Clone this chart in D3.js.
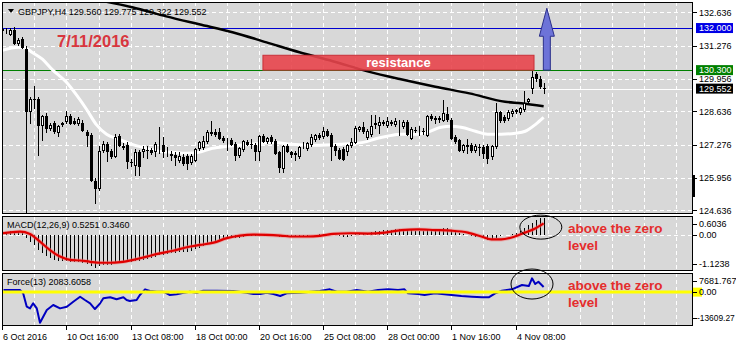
<!DOCTYPE html>
<html><head><meta charset="utf-8">
<script src="https://cdn.jsdelivr.net/npm/d3@7/dist/d3.min.js"></script>
<style>
body{margin:0;background:#fff;}
svg{display:block;font-family:"Liberation Sans",Arial,sans-serif;}
</style>
</head><body>
<svg id="c" width="736" height="347"></svg>
<script>
// ---------------- DATA ----------------
const symbol = "GBPJPY", timeframe = "H4";
// H4 candles, index 0 = 6 Oct 2016 00:00 ; [open, high, low, close]
const candles = [
[131.95,132.07,131.79,131.87],[131.87,131.99,131.75,131.91],[131.71,131.99,131.67,131.91],[131.91,132.03,131.30,131.34],
[131.34,131.59,131.26,131.50],[131.55,131.63,131.14,131.18],[131.14,131.26,122.40,128.60],[128.60,129.20,128.11,129.12],
[129.12,129.65,128.72,129.08],[129.12,129.20,126.82,128.03],[128.03,128.47,127.42,128.43],[128.43,128.56,127.75,127.91],
[127.91,128.15,127.83,128.07],[128.15,128.23,127.71,127.79],[127.75,128.07,127.59,128.03],[128.07,128.19,127.99,128.15],
[128.19,128.64,128.11,128.43],[128.43,128.52,128.07,128.11],[128.23,128.35,128.07,128.11],[128.11,128.39,128.03,128.31],
[128.15,128.27,127.79,127.83],[127.79,127.87,127.18,127.63],[127.67,127.75,125.77,125.81],[125.81,125.93,124.88,125.48],
[125.48,127.22,125.40,127.02],[127.02,127.42,126.94,127.30],[127.30,127.38,126.58,126.98],[127.02,127.10,126.70,126.78],
[126.78,127.71,126.74,127.59],[127.63,127.71,127.18,127.22],[127.22,127.34,127.06,127.14],[127.26,127.38,126.29,126.58],
[126.58,126.70,126.37,126.53],[126.41,127.10,126.01,126.98],[126.98,127.06,126.01,126.37],[126.98,127.22,126.74,127.10],
[127.06,127.22,126.70,127.02],[127.06,127.14,126.86,126.94],[126.98,127.38,126.78,127.30],[127.34,127.99,126.90,127.38],
[127.26,127.59,126.74,126.98],[127.02,127.18,126.78,127.06],[126.90,127.02,126.62,126.82],[126.86,126.98,126.41,126.74],
[126.62,126.98,126.53,126.82],[126.78,126.90,126.41,126.49],[126.82,126.90,126.25,126.49],[126.53,126.90,126.45,126.82],
[126.62,127.14,126.58,127.10],[127.10,127.42,127.02,127.38],[127.14,127.63,127.06,127.42],[127.38,127.87,127.30,127.79],
[127.79,128.23,127.63,127.71],[127.79,127.91,127.59,127.67],[127.79,127.95,127.46,127.51],[127.55,127.63,127.34,127.42],
[127.46,127.55,127.02,127.51],[127.46,127.55,127.22,127.26],[127.30,127.38,126.62,126.82],[126.82,127.18,126.74,127.14],
[127.06,127.46,126.98,127.42],[127.38,127.46,127.22,127.26],[127.30,127.51,127.10,127.26],[127.26,127.34,126.62,126.98],
[126.98,127.67,126.62,127.63],[127.63,127.71,127.34,127.38],[127.38,127.59,127.30,127.55],[127.59,127.67,127.30,127.38],
[127.42,127.51,126.86,126.90],[126.98,127.02,126.13,126.33],[126.29,127.26,126.13,127.22],[127.22,127.30,126.94,126.98],
[126.98,127.02,126.74,126.86],[126.86,127.02,126.62,126.94],[126.78,127.22,126.70,127.18],[127.18,127.38,127.10,127.20],
[127.10,127.38,127.02,127.34],[127.26,127.71,127.18,127.59],[127.46,127.71,127.38,127.67],[127.67,127.75,127.46,127.55],
[127.59,127.99,127.51,127.83],[127.83,127.91,127.59,127.63],[127.67,127.75,126.62,127.18],[127.22,127.30,126.82,127.02],
[127.06,127.14,126.66,126.70],[127.10,127.18,126.62,126.66],[126.98,127.30,126.82,127.26],[127.22,127.55,127.14,127.38],
[127.34,128.03,127.30,127.95],[127.87,128.03,127.79,127.99],[127.99,128.19,127.71,127.79],[127.55,127.91,127.46,127.83],
[127.67,128.47,127.59,128.03],[128.07,128.47,127.91,128.15],[128.03,128.39,127.71,128.19],[128.19,128.27,128.03,128.11],
[128.03,128.39,127.95,128.23],[128.19,128.27,128.03,128.11],[128.07,128.35,127.99,128.23],[128.11,128.27,127.63,128.15],
[127.99,128.27,127.91,128.19],[128.19,128.27,127.63,127.67],[127.51,127.99,127.46,127.91],[127.87,127.99,127.75,127.83],
[127.83,128.03,127.63,127.87],[127.83,127.95,127.67,127.79],[127.63,128.47,127.59,128.43],[128.43,128.52,128.23,128.31],
[128.27,128.43,128.11,128.35],[128.35,128.43,128.15,128.27],[128.23,129.08,128.19,128.56],[128.52,128.80,128.19,128.27],
[128.27,128.35,127.46,127.51],[127.59,127.67,127.30,127.38],[127.46,127.51,126.98,127.02],[127.02,127.30,126.94,127.26],
[127.18,127.51,126.90,127.26],[127.26,127.34,126.94,127.02],[127.02,127.30,126.94,127.22],[127.18,127.30,126.82,127.14],
[127.18,127.26,126.70,126.90],[127.22,127.30,126.49,126.70],[126.78,127.26,126.66,127.22],[127.18,128.96,127.10,128.60],
[128.60,128.64,128.15,128.23],[128.39,128.47,128.15,128.23],[128.31,128.68,128.23,128.60],[128.52,128.72,128.39,128.64],
[128.60,128.72,128.52,128.68],[128.56,128.80,128.47,128.76],[128.68,129.44,128.60,128.99],[129.00,129.16,128.96,129.12],
[129.52,130.25,129.32,130.01],[130.13,130.21,129.81,129.93],[129.93,130.05,129.52,129.61],[129.560,129.775,129.322,129.552]
];
// moving averages: [bar index, price]
const maFast = [[0,131.10],[4,131.22],[6,131.18],[7.4,131.02],[10,130.74],[12.4,130.33],[16,129.81],[18.4,129.32],
[21,128.72],[23.4,128.11],[26,127.71],[29,127.51],[32.4,127.30],[36,127.14],[39,127.02],[42.4,126.98],[46,126.94],
[49,126.98],[52.4,127.14],[56,127.22],[62,127.30],[68,127.38],[72,127.30],[78,127.26],[84,127.30],[90,127.38],
[93.6,127.55],[96,127.63],[99.4,127.71],[103,127.71],[106,127.79],[109.4,127.99],[112,128.03],[114.4,127.99],
[118,127.83],[121,127.71],[124.4,127.71],[128,127.75],[130.4,127.83],[133,128.11],[135,128.39]];
const maSlow = [[25.4,133.08],[32.4,132.84],[40.9,132.47],[49.1,132.15],[57.4,131.83],[65.9,131.42],[74.1,131.02],
[82.4,130.66],[91.1,130.25],[99.4,129.93],[108,129.63],[116.5,129.36],[125.4,129.02],[129.4,128.96],[135,128.84]];
// price axis
const priceTicks = [132.636,131.276,129.956,128.636,127.276,125.956,124.636];
const priceRange = [124.636,132.636];
const blueLevel = 132.000, greenLevel = 130.300;
// resistance zone and target arrow
const resistanceBars = [65,132.6], resistancePrices = [130.30,130.90];
const arrowBar = 135.8, arrowPrices = [130.30,132.80];
// MACD(12,26,9) main line per bar and signal line samples
const macdMain = [0.08,0.09,0.10,0.10,0.09,0.07,-0.10,-0.22,-0.33,-0.48,
-0.58,-0.66,-0.72,-0.77,-0.80,-0.82,-0.83,-0.84,-0.85,-0.86,
-0.88,-0.90,-0.97,-1.02,-0.98,-0.95,-0.94,-0.93,-0.88,-0.86,
-0.85,-0.86,-0.86,-0.83,-0.82,-0.78,-0.75,-0.72,-0.68,-0.64,
-0.62,-0.60,-0.58,-0.57,-0.55,-0.54,-0.53,-0.50,-0.45,-0.40,
-0.35,-0.29,-0.24,-0.20,-0.17,-0.15,-0.13,-0.12,-0.12,-0.10,
-0.07,-0.05,-0.04,-0.04,-0.01,0.00,0.01,0.01,-0.02,-0.06,
-0.05,-0.06,-0.07,-0.07,-0.06,-0.05,-0.04,-0.02,0.00,0.01,
0.03,0.03,0.00,-0.02,-0.05,-0.07,-0.06,-0.04,0.01,0.04,
0.05,0.05,0.08,0.10,0.12,0.13,0.14,0.15,0.16,0.16,
0.17,0.14,0.13,0.12,0.12,0.11,0.15,0.17,0.18,0.18,
0.20,0.19,0.14,0.10,0.06,0.03,0.00,-0.03,-0.06,-0.09,
-0.12,-0.16,-0.17,-0.10,-0.05,-0.02,-0.01,0.02,0.05,0.12,
0.20,0.28,0.36,0.44,0.50,0.5251];
const macdSignal = [[0,0.04],[4.4,0.09],[6.9,0.02],[9.4,-0.22],[11.9,-0.48],[14.4,-0.68],[16.9,-0.78],[19.4,-0.80],
[21.9,-0.84],[24.4,-0.87],[26.9,-0.87],[29.4,-0.85],[32.7,-0.78],[36,-0.68],[39.3,-0.58],[42.6,-0.50],[46,-0.39],
[49.3,-0.32],[52.7,-0.25],[56,-0.11],[59.3,-0.03],[62.6,0.00],[65.9,-0.01],[69.3,-0.03],[72.6,-0.06],[75.9,-0.06],
[79.2,-0.04],[82.6,0.02],[86.7,0.04],[91.2,0.03],[95.4,0.06],[99.5,0.14],[103.7,0.16],[107.8,0.14],[112,0.12],
[116.1,0.06],[119.5,-0.06],[122,-0.15],[124.4,-0.15],[127.8,-0.06],[130.3,0.06],[132.9,0.19],[135,0.3460]];
const macdRange = [-1.1238,0.6036];
// Force(13)
const forceLine = [[0.3,840],[4.4,840],[5.2,-480],[6.1,-5860],[6.9,-6530],[7.7,-4500],[8.6,-6530],[9.4,-12290],
[10.2,-9880],[11.1,-7190],[12.7,-5180],[14.4,-6530],[16.1,-5860],[17.7,-3850],[19.4,-1840],[20.6,-3170],[21.9,-4500],
[23.1,-6790],[24.4,-4500],[25.2,-2490],[26.9,-2090],[28.5,-2890],[30.2,-2090],[31,-3170],[31.8,-3570],[33.5,-3170],
[34.3,-1160],[35.6,1120],[36.8,440],[38.5,160],[40.2,160],[41.8,-1160],[43.5,-880],[45.2,-240],[46.8,160],[48.5,-240],
[50.1,560],[53.5,560],[57.6,440],[60.9,-240],[62.6,-760],[64.3,-760],[65.9,-240],[67.6,-760],[69.3,-1570],[70.9,-480],
[74.2,-240],[79.2,440],[81.7,1120],[83.4,160],[85.9,160],[88.4,840],[91.2,160],[93.7,840],[96.2,1120],[98.7,840],
[100.3,1120],[101.2,-480],[103.7,-760],[105.3,-1160],[107.9,-480],[112,-1160],[114.5,-1570],[117.1,-1840],
[119.6,-2090],[121.3,-2090],[122.9,-480],[124.6,560],[127.1,1120],[129.6,2850],[131.3,2450],[132.1,5540],
[132.9,3250],[133.7,4180],[135,2083.6058]];
const forceRange = [-13609.27,7681.767];
// time axis
const timeTickBars = [0,16,32,48,64,80,96,112,128];
const timeLabels = ["6 Oct 2016","10 Oct 16:00","13 Oct 08:00","18 Oct 00:00","20 Oct 16:00","25 Oct 08:00","28 Oct 00:00","1 Nov 16:00","4 Nov 08:00"];
// annotations
const dateNote = "7/11/2016", resistanceNote = "resistance";
const zeroNote = ["above the zero","level"];
const macdCircle = [134.3,0.23], forceCircle = [132.1,3250];

// ---------------- LAYOUT ----------------
const svg = d3.select("#c");
const L = 2, R = 693;
const P = {main:[2,214], macd:[216,271], force:[273,326]};
const GRAY = "#d8d8d8";
const xS = d3.scaleLinear().domain([0,172]).range([2.3,692]);
const yMain = d3.scaleLinear().domain(priceRange).range([210.3,12.3]);
const yMacd = d3.scaleLinear().domain(macdRange).range([271,215]);
const yForce = d3.scaleLinear().domain(forceRange).range([326,273]);

svg.append("rect").attr("width",736).attr("height",347).attr("fill","#fff");
const defs = svg.append("defs");
Object.entries(P).forEach(([k,[t,b]])=>{
  defs.append("clipPath").attr("id","clip-"+k).append("rect").attr("x",L).attr("y",t).attr("width",R-L).attr("height",b-t);
  svg.append("rect").attr("x",L).attr("y",t).attr("width",R-L).attr("height",b-t).attr("fill",GRAY);
});
const gMain = svg.append("g").attr("clip-path","url(#clip-main)");
const gMacd = svg.append("g").attr("clip-path","url(#clip-macd)");
const gForce = svg.append("g").attr("clip-path","url(#clip-force)");

// vertical grid
const gridBars = d3.range(8,172,8);
[["main",gMain],["macd",gMacd],["force",gForce]].forEach(([k,g])=>{
  g.append("g").attr("shape-rendering","crispEdges").selectAll("line").data(gridBars).join("line")
   .attr("x1",d=>Math.round(xS(d))+0.5).attr("x2",d=>Math.round(xS(d))+0.5)
   .attr("y1",P[k][0]).attr("y2",P[k][1]).attr("stroke","#fff").attr("stroke-dasharray","4,3");
});
// horizontal grid main
gMain.append("g").attr("shape-rendering","crispEdges").selectAll("line").data(priceTicks).join("line")
  .attr("x1",L).attr("x2",R).attr("y1",d=>Math.round(yMain(d))+0.5).attr("y2",d=>Math.round(yMain(d))+0.5)
  .attr("stroke","#fff").attr("stroke-dasharray","4,3");
gMacd.append("line").attr("x1",L).attr("x2",R).attr("y1",Math.round(yMacd(0))+0.5).attr("y2",Math.round(yMacd(0))+0.5)
  .attr("stroke","#fff").attr("stroke-dasharray","4,3").attr("shape-rendering","crispEdges");

// level lines
const lastClose = candles[candles.length-1][3];
[[blueLevel,"#0000d0"],[greenLevel,"#008000"],[lastClose,"#ffffff"]].forEach(([v,c])=>{
  gMain.append("line").attr("x1",L).attr("x2",R).attr("y1",Math.round(yMain(v))+0.5).attr("y2",Math.round(yMain(v))+0.5)
   .attr("stroke",c).attr("shape-rendering","crispEdges");
});

// moving averages
const lineMain = d3.line().x(d=>xS(d[0])).y(d=>yMain(d[1])).curve(d3.curveMonotoneX);
gMain.append("path").attr("d",lineMain(maFast)).attr("fill","none").attr("stroke","#ffffff").attr("stroke-width",3);
gMain.append("path").attr("d",lineMain(maSlow)).attr("fill","none").attr("stroke","#000").attr("stroke-width",2.5);

// candles
const gC = gMain.append("g").attr("shape-rendering","crispEdges");
const cd = candles.map((d,i)=>({i,o:d[0],h:d[1],l:d[2],c:d[3]}));
gC.selectAll("line").data(cd).join("line")
  .attr("x1",d=>Math.round(xS(d.i))+0.5).attr("x2",d=>Math.round(xS(d.i))+0.5)
  .attr("y1",d=>yMain(d.h)).attr("y2",d=>yMain(d.l)).attr("stroke","#000");
gC.selectAll("rect.bear").data(cd.filter(d=>d.c<d.o)).join("rect").attr("class","bear")
  .attr("x",d=>Math.round(xS(d.i))-1).attr("width",3)
  .attr("y",d=>Math.round(yMain(d.o))).attr("height",d=>Math.max(1,Math.round(yMain(d.c))-Math.round(yMain(d.o))))
  .attr("fill","#000");
gC.selectAll("rect.bull").data(cd.filter(d=>d.c>=d.o)).join("rect").attr("class","bull")
  .attr("x",d=>Math.round(xS(d.i))-0.5).attr("width",2)
  .attr("y",d=>Math.round(yMain(d.c))+0.5).attr("height",d=>Math.max(0,Math.round(yMain(d.o))-Math.round(yMain(d.c))-1))
  .attr("fill","#fff").attr("stroke","#000");

// resistance box
const rx0 = xS(resistanceBars[0]), rx1 = xS(resistanceBars[1]);
const ry0 = yMain(resistancePrices[1]), ry1 = yMain(resistancePrices[0]);
gMain.append("rect").attr("x",rx0).attr("y",ry0).attr("width",rx1-rx0).attr("height",ry1-ry0)
  .attr("fill","#e8454c").attr("fill-opacity",0.9).attr("stroke","#c83038").attr("stroke-width",1);
gMain.append("text").attr("x",(rx0+rx1)/2).attr("y",(ry0+ry1)/2+4.5).attr("text-anchor","middle")
  .attr("font-size",13).attr("font-weight","bold").attr("fill","#fff").text(resistanceNote);

// arrow
const ax = xS(arrowBar), aBase = yMain(arrowPrices[0]), aTip = yMain(arrowPrices[1]);
const headY = aTip + 28;
gMain.append("path").attr("d",`M${ax},${aTip} L${ax+7.5},${headY} L${ax+3.5},${headY} L${ax+3.5},${aBase} L${ax-3.5},${aBase} L${ax-3.5},${headY} L${ax-7.5},${headY} Z`)
  .attr("fill","#6d73d8").attr("stroke","#2b2f8a").attr("stroke-width",1);

// date note
gMain.append("text").attr("x",57).attr("y",47).attr("font-size",16.5).attr("font-weight","bold").attr("fill","#d8363e").text(dateNote);

// header
svg.append("path").attr("d","M8,9 L14,9 L11,13 Z").attr("fill","#000");
const lc = candles[candles.length-1];
svg.append("text").attr("x",18).attr("y",14.5).attr("font-size",9).attr("fill","#000")
  .text(`${symbol},${timeframe}  ${lc[0].toFixed(3)} ${lc[1].toFixed(3)} ${lc[2].toFixed(3)} ${lc[3].toFixed(3)}`);

// MACD histogram + signal
gMacd.append("g").attr("shape-rendering","crispEdges").selectAll("line").data(macdMain).join("line")
  .attr("x1",(d,i)=>Math.round(xS(i))+0.5).attr("x2",(d,i)=>Math.round(xS(i))+0.5)
  .attr("y1",yMacd(0)).attr("y2",d=>yMacd(d)).attr("stroke","#000");
const lineMacd = d3.line().x(d=>xS(d[0])).y(d=>yMacd(d[1])).curve(d3.curveMonotoneX);
gMacd.append("path").attr("d",lineMacd(macdSignal)).attr("fill","none").attr("stroke","#f08080").attr("stroke-width",4).attr("stroke-opacity",0.5);
gMacd.append("path").attr("d",lineMacd(macdSignal)).attr("fill","none").attr("stroke","#e00000").attr("stroke-width",2.2);
svg.append("text").attr("x",7).attr("y",227.5).attr("font-size",9).attr("fill","#000")
  .text(`MACD(12,26,9) ${macdMain[macdMain.length-1].toFixed(4)} ${macdSignal[macdSignal.length-1][1].toFixed(4)}`);

// Force
const lineForce = d3.line().x(d=>xS(d[0])).y(d=>yForce(d[1]));
gForce.append("path").attr("d",lineForce(forceLine)).attr("fill","none").attr("stroke","#0000c0").attr("stroke-width",2).attr("stroke-linejoin","round");
gForce.append("line").attr("x1",L).attr("x2",R).attr("y1",yForce(0)).attr("y2",yForce(0)).attr("stroke","#ffff00").attr("stroke-width",3);
svg.append("text").attr("x",7).attr("y",285).attr("font-size",9).attr("fill","#000")
  .text(`Force(13) ${forceLine[forceLine.length-1][1].toFixed(4)}`);

// annotations on indicators
svg.append("ellipse").attr("cx",xS(macdCircle[0])).attr("cy",yMacd(macdCircle[1])).attr("rx",21).attr("ry",12)
  .attr("fill","none").attr("stroke","#000").attr("stroke-width",1);
svg.append("ellipse").attr("cx",xS(forceCircle[0])).attr("cy",yForce(forceCircle[1])).attr("rx",21).attr("ry",15)
  .attr("fill","none").attr("stroke","#000").attr("stroke-width",1);
[[233.3,250],[290,306.7]].forEach(([y1,y2])=>{
  svg.append("text").attr("x",568).attr("y",y1).attr("font-size",13.5).attr("font-weight","bold").attr("fill","#e42d2d").text(zeroNote[0]);
  svg.append("text").attr("x",568).attr("y",y2).attr("font-size",13.5).attr("font-weight","bold").attr("fill","#e42d2d").text(zeroNote[1]);
});

// panel borders
Object.values(P).forEach(([t,b])=>{
  svg.append("rect").attr("x",L+0.5).attr("y",t+0.5).attr("width",R-L-1).attr("height",b-t-1)
   .attr("fill","none").attr("stroke","#000").attr("shape-rendering","crispEdges");
});
svg.append("rect").attr("x",692).attr("y",175).attr("width",3).attr("height",22).attr("fill","#000");

// right axis: price
const axT = 699;
priceTicks.forEach(v=>{
  const y = yMain(v);
  svg.append("line").attr("x1",R).attr("x2",R+4).attr("y1",Math.round(y)+0.5).attr("y2",Math.round(y)+0.5).attr("stroke","#000").attr("shape-rendering","crispEdges");
  svg.append("text").attr("x",axT).attr("y",y+3.2).attr("font-size",9).attr("fill","#000").text(v.toFixed(3));
});
[[blueLevel,"#0000e6","#fff"],[greenLevel,"#008000","#fff"],[lastClose,"#000","#fff"]].forEach(([v,bg,fg])=>{
  const y = yMain(v);
  svg.append("rect").attr("x",696).attr("y",y-5).attr("width",37).attr("height",10).attr("fill",bg);
  svg.append("text").attr("x",axT).attr("y",y+3.2).attr("font-size",9).attr("fill",fg).text(v.toFixed(3));
});
// right axis: MACD
[[P.macd[0]+8,macdRange[1].toFixed(4)],[yMacd(0),"0.00"],[P.macd[1]-7.5,macdRange[0].toFixed(4)]].forEach(([y,t])=>{
  svg.append("line").attr("x1",R).attr("x2",R+4).attr("y1",Math.round(y)+0.5).attr("y2",Math.round(y)+0.5).attr("stroke","#000").attr("shape-rendering","crispEdges");
  svg.append("text").attr("x",axT).attr("y",y+3.2).attr("font-size",9).attr("fill","#000").text(t);
});
// right axis: Force
svg.append("rect").attr("x",693).attr("y",yForce(0)-4.5).attr("width",9).attr("height",9).attr("fill","#ffff00");
[[P.force[0]+8,forceRange[1].toFixed(3),9,axT],[yForce(0),"0.00",9,axT],[P.force[1]-8.5,forceRange[0].toFixed(2),8.4,697]].forEach(([y,t,fs,tx])=>{
  svg.append("line").attr("x1",R).attr("x2",R+4).attr("y1",Math.round(y)+0.5).attr("y2",Math.round(y)+0.5).attr("stroke","#000").attr("shape-rendering","crispEdges");
  svg.append("text").attr("x",tx).attr("y",y+3.2).attr("font-size",fs).attr("fill","#000").text(t);
});

// time axis
timeTickBars.forEach((b,k)=>{
  const x = Math.round(xS(b))+0.5;
  svg.append("line").attr("x1",x).attr("x2",x).attr("y1",326).attr("y2",330).attr("stroke","#000").attr("shape-rendering","crispEdges");
  svg.append("text").attr("x",x+0.5).attr("y",340).attr("font-size",9).attr("fill","#000").text(timeLabels[k]);
});
</script>
</body></html>
